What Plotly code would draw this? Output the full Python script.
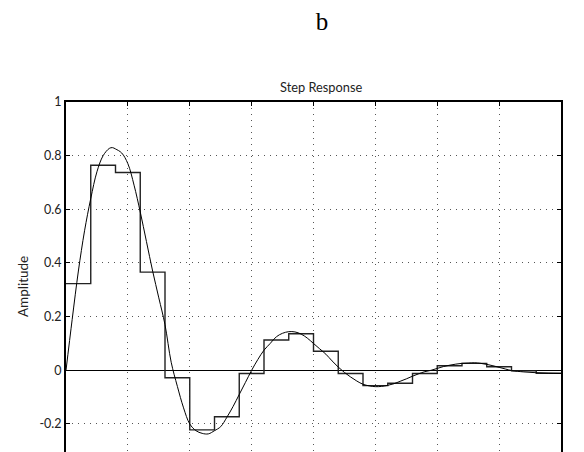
import plotly.graph_objects as go

# Continuous step response
t_cont = [0, 0.1, 0.2, 0.3, 0.4, 0.5, 0.6, 0.7, 0.75, 0.8, 0.9, 1.0, 1.1, 1.2, 1.3, 1.4, 1.5, 1.6,
          1.7, 1.8, 1.9, 2.0, 2.1, 2.2, 2.3, 2.4, 2.5, 2.6, 2.7, 2.8, 2.9, 3.0, 3.1, 3.2, 3.3,
          3.4, 3.5, 3.6, 3.7, 3.8, 3.9, 4.0, 4.1, 4.2, 4.3, 4.4, 4.5, 4.6, 4.7, 4.8, 4.9, 5.0,
          5.1, 5.2, 5.3, 5.4, 5.5, 5.6, 5.7, 5.8, 5.9, 6.0, 6.1, 6.2, 6.3, 6.4, 6.5, 6.6, 6.7,
          6.8, 6.9, 7.0, 7.1, 7.2, 7.4, 7.6, 7.8, 8.0]
y_cont = [0, 0.19, 0.37, 0.52, 0.64, 0.74, 0.80, 0.827, 0.83, 0.825, 0.81, 0.77, 0.69, 0.59, 0.48,
          0.37, 0.27, 0.17, 0.03, -0.06, -0.14, -0.20, -0.225, -0.235, -0.237, -0.225, -0.21,
          -0.175, -0.135, -0.09, -0.045, 0.0, 0.04, 0.075, 0.10, 0.125, 0.138, 0.144, 0.143,
          0.135, 0.12, 0.10, 0.08, 0.06, 0.035, 0.012, -0.008, -0.025, -0.04, -0.052, -0.058,
          -0.061, -0.06, -0.056, -0.05, -0.041, -0.032, -0.022, -0.013, -0.005, 0.0, 0.007,
          0.014, 0.019, 0.023, 0.026, 0.027, 0.028, 0.026, 0.022, 0.017, 0.011, 0.005, -0.001,
          -0.006, -0.009, -0.011, -0.012]

# Discrete (sampled) step response, Ts = 0.4
t_disc = [0, 0.4, 0.8, 1.2, 1.6, 2.0, 2.4, 2.8, 3.2, 3.6, 4.0, 4.4, 4.8, 5.2, 5.6, 6.0, 6.4,
          6.8, 7.2, 7.6, 8.0]
y_disc = [0.323, 0.764, 0.737, 0.366, -0.028, -0.222, -0.173, -0.012, 0.113, 0.136, 0.071,
          -0.012, -0.057, -0.048, -0.012, 0.017, 0.026, 0.013, -0.002, -0.011, -0.011]

y_ticks = [-0.2, 0, 0.2, 0.4, 0.6, 0.8, 1]
y_ticktext = ["-0.2", "0", "0.2", "0.4", "0.6", "0.8", "1"]
x_ticks = [0, 1, 2, 3, 4, 5, 6, 7, 8]

fig = go.Figure()
fig.add_trace(go.Scatter(x=t_disc, y=y_disc, mode="lines", line=dict(color="#222", width=1.4, shape="hv"),
                         showlegend=False, hoverinfo="skip"))
fig.add_trace(go.Scatter(x=t_cont, y=y_cont, mode="lines", line=dict(color="black", width=1, shape="spline"),
                         showlegend=False, hoverinfo="skip"))

tick_font = dict(family="Lato, Open Sans, sans-serif", size=12.5, color="#222")

fig.update_layout(
    width=584, height=452,
    margin=dict(l=66, r=23, t=102, b=0),
    paper_bgcolor="white", plot_bgcolor="white",
    title=dict(text="b", x=322 / 584, xanchor="center", y=1 - 21 / 452, yanchor="middle",
               font=dict(family="Liberation Serif, Times New Roman, serif", size=25, color="black")),
    xaxis=dict(range=[0, 8], side="top", showline=True, linecolor="black", linewidth=2,
               ticks="inside", ticklen=4, tickcolor="black", tickvals=x_ticks, showticklabels=False,
               showgrid=True, gridcolor="#555", gridwidth=1, griddash="1px,5px", zeroline=False),
    yaxis=dict(range=[-0.3045, 1], showline=True, linecolor="black", linewidth=2, mirror="ticks",
               ticks="inside", ticklen=4, tickcolor="black", tickvals=y_ticks, ticktext=y_ticktext,
               tickfont=tick_font, showgrid=True, gridcolor="#555", gridwidth=1, griddash="1px,5px",
               zeroline=True, zerolinecolor="black", zerolinewidth=1.2),
    annotations=[
        dict(text="Step Response", xref="paper", yref="paper", x=(321.5 - 66) / 495.5, y=(452 - 87) / 350,
             xanchor="center", yanchor="middle", showarrow=False,
             font=dict(family="Lato, Open Sans, sans-serif", size=12.8, color="#222")),
        dict(text="Amplitude", xref="paper", yref="paper", x=(23 - 66) / 495.5, y=(452 - 287) / 350,
             xanchor="center", yanchor="middle", textangle=-90, showarrow=False,
             font=dict(family="Lato, Open Sans, sans-serif", size=13.5, color="#222")),
    ],
)

fig.write_html("out.html", config={"displayModeBar": False},
               post_script="document.body.style.margin='0';document.body.style.overflow='hidden';")
